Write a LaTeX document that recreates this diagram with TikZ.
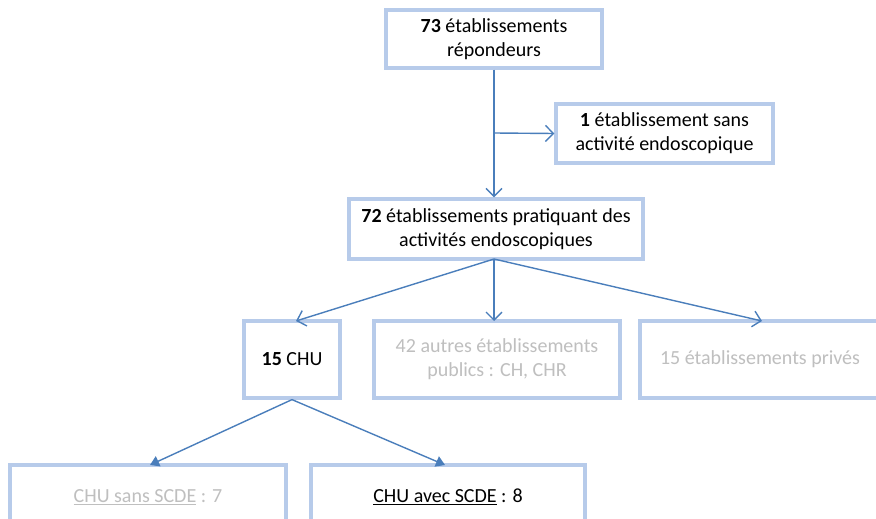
\documentclass[tikz,border=0pt]{standalone}
\usepackage{fontspec}
\setmainfont{Carlito}
\usetikzlibrary{arrows.meta}
\definecolor{boxblue}{HTML}{B7CBEA}
\definecolor{lineblue}{HTML}{4A7EBB}
\definecolor{greytext}{HTML}{BFBFBF}
\tikzset{
  box/.style={draw=boxblue, line width=3.2pt, fill=white, align=center, font=\fontsize{20}{24}\selectfont, inner sep=0pt},
  lbl/.style={align=center, font=\fontsize{20}{24}\selectfont, inner sep=0pt},
  arr/.style={draw=lineblue, line width=1.4pt, -{Straight Barb[length=8pt,width=16pt,line width=1.4pt]}},
  farr/.style={draw=lineblue, line width=1.4pt, -{Triangle[length=9pt,width=11pt]}},
}
\begin{document}
\begin{tikzpicture}[x=1pt,y=-1pt]
\useasboundingbox (0,0) rectangle (876,519);
\node[box, minimum width=216pt, minimum height=58pt] (a) at (494,39) {\textbf{73} établissements\\répondeurs};
\node[box, minimum width=217pt, minimum height=59pt] (b) at (664.5,133.5) {\textbf{1} établissement sans\\activité endoscopique};
\node[box, minimum width=294pt, minimum height=60pt] (c) at (496,229) {\textbf{72} établissements pratiquant des\\activités endoscopiques};
\node[box, minimum width=96pt, minimum height=77pt] (d) at (292,359.5) {\textbf{15} CHU};
\node[box, minimum width=246pt, minimum height=77pt, text=greytext] (e) at (497,359.5) {42 autres établissements\\publics : CH, CHR};
\node[box, minimum width=240pt, minimum height=77pt, text=greytext] (f) at (760,359.5) {15 établissements privés};
\node[box, minimum width=276pt, minimum height=77pt] (g) at (148,503.5) {};
\node[box, minimum width=274pt, minimum height=77pt] (h) at (448,503.5) {};
\node[lbl, text=greytext] (gt) at (148,497) {\underline{CHU sans SCDE} : 7};
\node[lbl] (ht) at (448,497) {\underline{CHU avec SCDE} : 8};
\coordinate (ab) at (494,133);
\draw[arr] (a.south -| ab) -- (c.north -| ab);
\draw[arr] (ab) -- (b.west);
\coordinate (cb) at (494,259);
\draw[arr] (cb) -- (296,321);
\draw[arr] (cb) -- (494,321);
\draw[arr] (cb) -- (762,321);
\draw[farr] (d.south) -- (150,465);
\draw[farr] (d.south) -- (445,465);
\end{tikzpicture}
\end{document}
